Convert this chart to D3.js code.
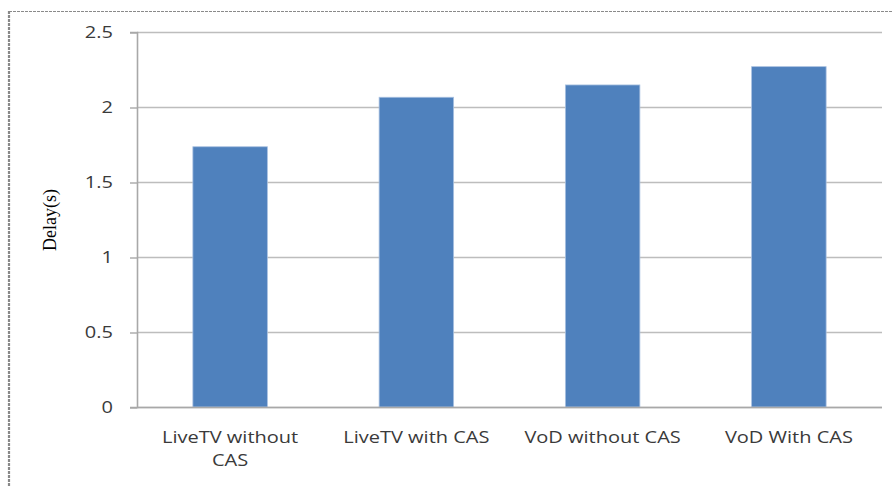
<!DOCTYPE html>
<html>
<head>
<meta charset="utf-8">
<script src="https://cdn.jsdelivr.net/npm/d3@7"></script>
<style>
  html, body { margin: 0; padding: 0; background: #fff; }
  svg { display: block; }
</style>
</head>
<body>
<svg id="chart" width="893" height="486"></svg>
<script>
const categories = [["LiveTV without", "CAS"], ["LiveTV with CAS"], ["VoD without CAS"], ["VoD With CAS"]];
const values = [1.735, 2.065, 2.147, 2.269];
const yTicks = [0, 0.5, 1, 1.5, 2, 2.5];
const yLabel = "Delay(s)";

const svg = d3.select("#chart");
const W = 893, H = 486;
const m = { left: 137, right: 11, top: 32, bottom: 79 };
const iw = W - m.left - m.right, ih = H - m.top - m.bottom;

// outer dashed frame
svg.append("line").attr("x1", 9).attr("x2", W).attr("y1", 11.5).attr("y2", 11.5)
  .attr("stroke", "#8a8a8a").attr("stroke-width", 1.2).attr("stroke-dasharray", "3,1");
svg.append("line").attr("x1", 9).attr("x2", 9).attr("y1", 11).attr("y2", H)
  .attr("stroke", "#888").attr("stroke-width", 2.2).attr("stroke-dasharray", "3,1");

const g = svg.append("g").attr("transform", `translate(${m.left},${m.top})`);

const x = d3.scaleBand().domain(d3.range(categories.length)).range([0, iw])
  .paddingInner(0.6).paddingOuter(0.3);
const y = d3.scaleLinear().domain([0, 2.5]).range([ih, 0]);

const font = "'Open Sans', sans-serif";
const txtColor = "#3a3a3a";

// gridlines
g.append("g").selectAll("line").data(yTicks).join("line")
  .attr("x1", 0).attr("x2", iw)
  .attr("y1", d => y(d) + 0.5).attr("y2", d => y(d) + 0.5)
  .attr("stroke", "#bdbdbd").attr("stroke-width", 1.6);

// y axis
const yAxis = d3.axisLeft(y).tickValues(yTicks).tickSize(7).tickPadding(17)
  .tickFormat(d => String(d));
const ya = g.append("g").call(yAxis);
ya.select(".domain").attr("stroke", "#a8a8a8").attr("stroke-width", 1.6);
ya.selectAll(".tick line").attr("stroke", "#a8a8a8").attr("stroke-width", 1.4)
  .attr("transform", "translate(0,0.5)");
ya.selectAll(".tick text").attr("fill", txtColor)
  .style("font-family", font).style("font-size", "16px")
  .attr("x", 0).attr("dy", "0.36em")
  .attr("transform", "translate(-24,0) scale(1.25,1)");

// bars
g.append("g").selectAll("rect").data(values).join("rect")
  .attr("x", (d, i) => x(i)).attr("width", x.bandwidth())
  .attr("y", d => y(d)).attr("height", d => ih - y(d))
  .attr("fill", "#4f81bd").attr("stroke", "#a9c1e0").attr("stroke-width", 0.8);

// x baseline drawn on top
g.append("line").attr("x1", 0).attr("x2", iw).attr("y1", ih + 0.5).attr("y2", ih + 0.5)
  .attr("stroke", "#a8a8a8").attr("stroke-width", 1.6);

// x labels
const xl = g.append("g").selectAll("text").data(categories).join("text")
  .attr("transform", (d, i) => `translate(${x(i) + x.bandwidth() / 2},${ih + 36}) scale(1.25,1)`)
  .attr("text-anchor", "middle").attr("fill", txtColor)
  .style("font-family", font).style("font-size", "16px");
xl.selectAll("tspan").data(d => d).join("tspan")
  .attr("x", 0).attr("dy", (d, j) => j === 0 ? 0 : 23).text(d => d);

// y axis title
svg.append("text")
  .attr("transform", "translate(56,220) rotate(-90)")
  .attr("text-anchor", "middle").attr("fill", "#000")
  .style("font-family", "'Liberation Serif', 'Times New Roman', serif").style("font-size", "18px")
  .text(yLabel);
</script>
</body>
</html>
